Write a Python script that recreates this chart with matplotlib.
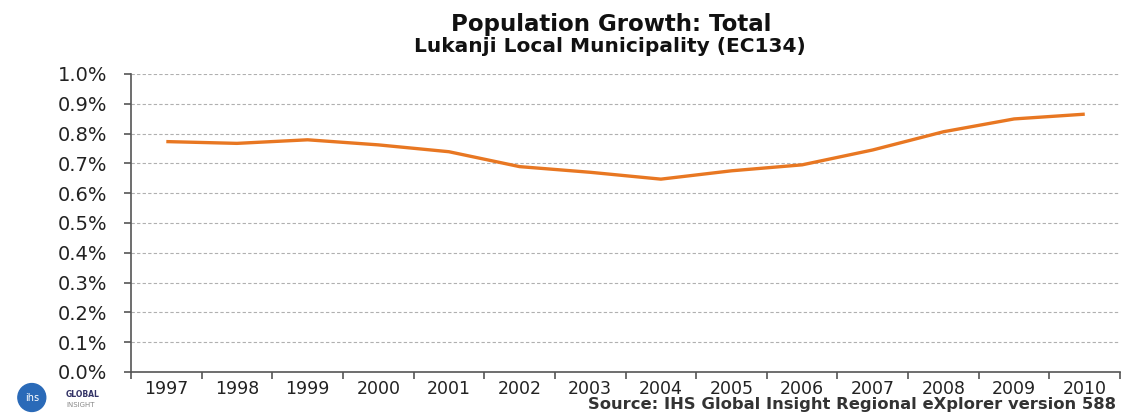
import numpy as np
import matplotlib
matplotlib.use('Agg')
import matplotlib.pyplot as plt
from matplotlib.patches import Circle

# data
years = ['1997', '1998', '1999', '2000', '2001', '2002', '2003',
         '2004', '2005', '2006', '2007', '2008', '2009', '2010']
growth = [0.773, 0.767, 0.779, 0.762, 0.739, 0.689, 0.670,
          0.647, 0.675, 0.695, 0.745, 0.806, 0.849, 0.865]
y_ticks = [0.0, 0.1, 0.2, 0.3, 0.4, 0.5, 0.6, 0.7, 0.8, 0.9, 1.0]

plt.rcParams['font.family'] = ['DejaVu Sans']

fig = plt.figure(figsize=(11.36, 4.13), dpi=100)
fig.patch.set_facecolor('white')
ax = fig.add_axes([0.1153, 0.0993, 0.8707, 0.7217])

x = np.arange(len(years))
ax.plot(x, growth, color='#E87722', lw=2.4, solid_capstyle='butt')

ax.set_xlim(-0.5, len(years) - 0.5)
ax.set_ylim(0, 1.0)
ax.set_yticks(y_ticks)
ax.set_yticklabels(['{:.1f}%'.format(v) for v in y_ticks], fontsize=14, color='#222222')
ax.set_xticks(x)
ax.set_xticklabels(years, fontsize=12.5, color='#222222')
ax.set_xticks(np.arange(-0.5, len(years)), minor=True)
ax.tick_params(axis='x', which='major', length=0, pad=6)
ax.tick_params(axis='x', which='minor', length=5, width=1.2, color='#555555', direction='out')
ax.tick_params(axis='y', length=5, width=1.2, color='#555555', direction='out', pad=12)

for v in y_ticks[1:]:
    ax.axhline(v, color='#b0b0b0', lw=0.8, ls=(0, (3, 2)), zorder=0)

for s in ['top', 'right']:
    ax.spines[s].set_visible(False)
for s in ['left', 'bottom']:
    ax.spines[s].set_color('#555555')
    ax.spines[s].set_linewidth(1.2)

fig.text(0.538, 0.94, 'Population Growth: Total', ha='center', va='center',
         fontsize=16.5, fontweight='bold', color='#111111')
fig.text(0.537, 0.888, 'Lukanji Local Municipality (EC134)', ha='center', va='center',
         fontsize=14.5, fontweight='bold', color='#111111')
fig.text(0.982, 0.003, 'Source: IHS Global Insight Regional eXplorer version 588',
         ha='right', va='bottom', fontsize=11.8, fontweight='bold', color='#333333')

# small logo
logo = fig.add_axes([0.008, 0.0, 0.04, 0.075])
logo.set_xlim(0, 1)
logo.set_ylim(0, 1)
logo.set_aspect('equal')
logo.axis('off')
logo.add_patch(Circle((0.5, 0.5), 0.45, color='#2a6ab8'))
logo.text(0.5, 0.5, 'ihs', ha='center', va='center', fontsize=7, color='white')
fig.text(0.058, 0.045, 'GLOBAL', fontsize=5.5, fontweight='bold', color='#333366', va='center')
fig.text(0.058, 0.02, 'INSIGHT', fontsize=5, color='#888888', va='center')

plt.savefig('out.png', dpi=100)
